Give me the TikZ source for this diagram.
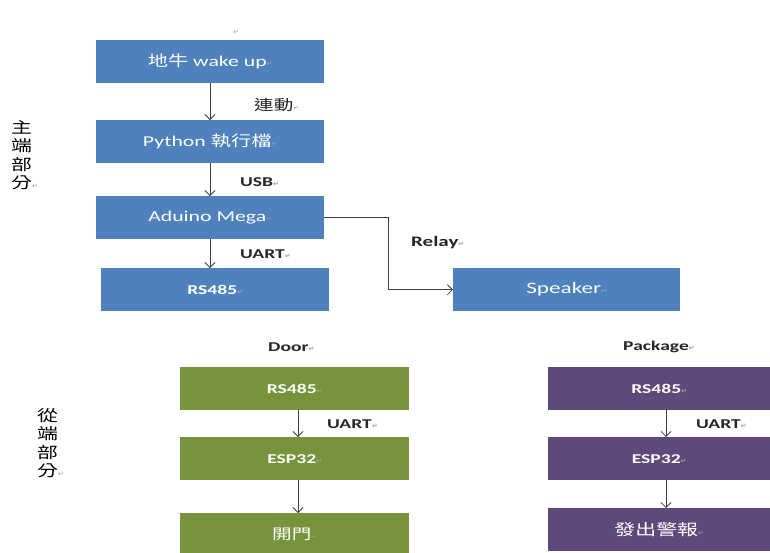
\documentclass[tikz,border=0pt]{standalone}
\usepackage{fontspec}
\setmainfont[FakeStretch=1.45]{Carlito}
\newfontfamily\cjk[FakeStretch=1.35]{Noto Sans CJK TC}
\newfontfamily\markfontx{DejaVu Sans}
\usetikzlibrary{arrows.meta}
\definecolor{blueb}{HTML}{4F81BD}
\definecolor{greenb}{HTML}{77933C}
\definecolor{purpb}{HTML}{5F497A}
\definecolor{linec}{HTML}{404040}
\definecolor{markc}{HTML}{A0A0A0}
\newcommand{\pmk}{{\markfontx\fontsize{7}{7}\selectfont\textcolor{markc}{↵}}}
\begin{document}
\begin{tikzpicture}[x=1pt,y=-1pt,
  box/.style={draw=none, anchor=north west, inner sep=0pt, minimum height=43pt, text=white, font=\fontsize{13.5}{14}\selectfont\bfseries},
  boxr/.style={box, font=\fontsize{15}{15}\selectfont},
  lab/.style={anchor=west, inner sep=0pt, text=black!85, font=\fontsize{13.5}{14}\selectfont\bfseries},
  conn/.style={draw=linec, line width=0.8pt, -{Straight Barb[length=5pt,width=10pt]}}]
\useasboundingbox (0,0) rectangle (770,552);
\fill[white] (0,0) rectangle (770,552);
% main part
\node[boxr, fill=blueb, minimum width=228pt] (wake) at (96,40) {{\cjk 地牛} wake up\pmk};
\node[boxr, fill=blueb, minimum width=228pt] (py) at (96,120) {Python {\cjk 執行檔}\pmk};
\node[boxr, fill=blueb, minimum width=228pt] (mega) at (96,196) {Aduino Mega\pmk};
\node[box, fill=blueb, minimum width=228pt] (rs) at (101,268) {RS485\pmk};
\node[boxr, fill=blueb, minimum width=227pt, font=\fontsize{16}{16}\selectfont] (spk) at (453,268) {Speaker\pmk};
\node[inner sep=0pt] (topmark) at (236,32) {\pmk};
\draw[conn] (wake.south -| 210,0) -- (py.north -| 210,0);
\draw[conn] (py.south -| 210,0) -- (mega.north -| 210,0);
\draw[conn] (mega.south -| 210,0) -- (rs.north -| 210,0);
\node[lab, font=\cjk\fontsize{14.5}{14}\selectfont] (l1) at (254,105) {連動\pmk};
\node[lab] (l2) at (240,182) {USB\pmk};
\node[lab] (l3) at (240,254) {UART\pmk};
\coordinate (c1) at (mega.east -| 388,0);
\draw[conn] (mega.east) -- (c1) |- (spk.west);
\node[lab, font=\fontsize{14.5}{14}\selectfont\bfseries] (l4) at (411,243) {Relay\pmk};
\node[anchor=north west, inner sep=0pt, align=left, font=\cjk\fontsize{15.5}{18.5}\selectfont] (main) at (11,120) {主\\端\\部\\分\pmk};
% door
\node[lab] (door) at (268,347) {Door\pmk};
\node[box, fill=greenb, minimum width=229pt] (drs) at (180,367) {RS485\pmk};
\node[box, fill=greenb, minimum width=229pt] (desp) at (180,437) {ESP32\pmk};
\node[box, fill=greenb, minimum width=229pt, font=\cjk\fontsize{14.5}{14}\selectfont] (dopen) at (180,513) {開門\pmk};
\draw[conn] (drs.south -| 298,0) -- (desp.north -| 298,0);
\draw[conn] (desp.south -| 298,0) -- (dopen.north -| 298,0);
\node[lab] (l5) at (327,424) {UART\pmk};
\node[anchor=north west, inner sep=0pt, align=left, font=\cjk\fontsize{15.5}{18.5}\selectfont] (slave) at (37,408) {從\\端\\部\\分\pmk};
% package
\node[lab] (pkg) at (623,347) {Package\pmk};
\node[box, fill=purpb, minimum width=222pt] (prs) at (548,367) {RS485\pmk};
\node[box, fill=purpb, minimum width=222pt] (pesp) at (548,437) {ESP32\pmk};
\node[box, fill=purpb, minimum width=222pt, font=\cjk\fontsize{15.5}{15}\selectfont] (palarm) at (548,508) {發出警報\pmk};
\draw[conn] (prs.south -| 666,0) -- (pesp.north -| 666,0);
\draw[conn] (pesp.south -| 666,0) -- (palarm.north -| 666,0);
\node[lab] (l6) at (696,424) {UART\pmk};
\end{tikzpicture}
\end{document}
